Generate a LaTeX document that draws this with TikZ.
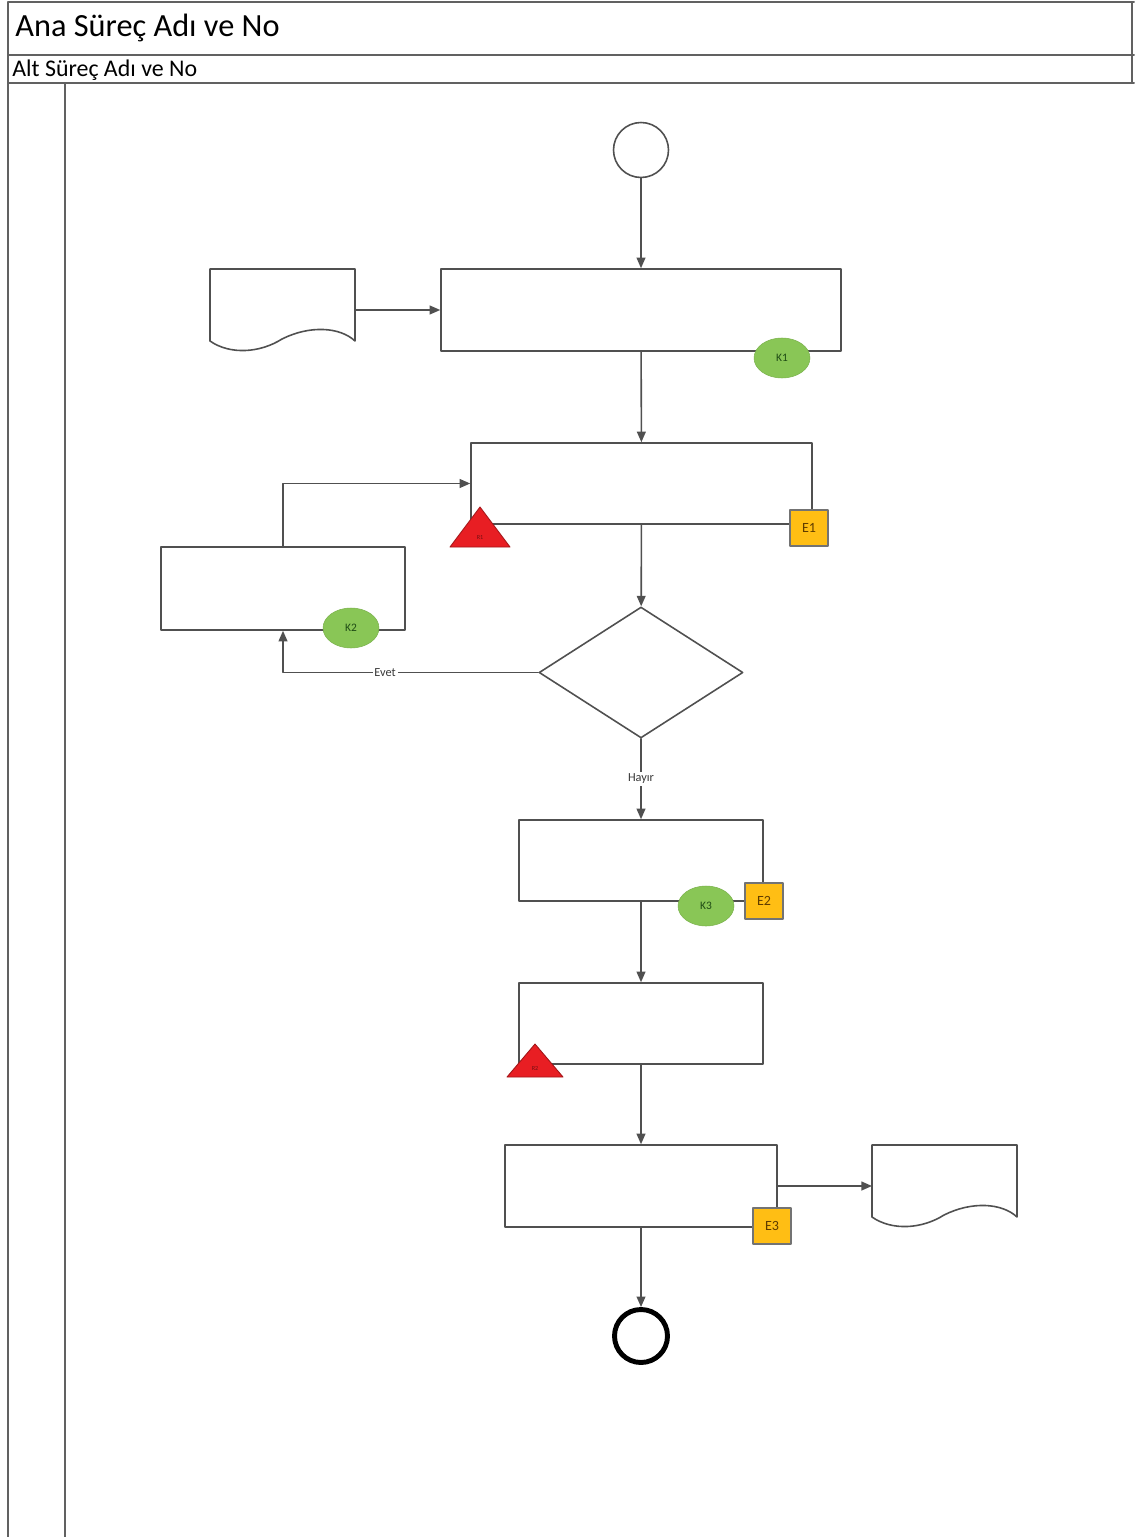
\documentclass[tikz,border=0pt]{standalone}
\usepackage{fontspec}
\setmainfont{Carlito}
\usetikzlibrary{shapes.geometric,arrows.meta}
\definecolor{cizgi}{RGB}{80,80,80}
\definecolor{kyesil}{RGB}{137,198,86}
\definecolor{kyazi}{RGB}{30,75,20}
\definecolor{eturuncu}{RGB}{255,190,20}
\definecolor{eyazi}{RGB}{95,60,0}
\definecolor{rkirmizi}{RGB}{232,30,35}
\tikzset{
	kutu/.style={draw=cizgi,line width=0.9pt,fill=white,inner sep=0pt},
	ok/.style={draw=cizgi,line width=0.9pt,-{Triangle[length=6pt,width=5pt]}},
	kball/.style={ellipse,fill=kyesil,draw=kyesil!90!black,line width=0.3pt,minimum width=1.12cm,minimum height=0.8cm,inner sep=0pt,text=kyazi,font=\fontsize{6.5}{7}\selectfont},
	ebox/.style={rectangle,fill=eturuncu,draw=cizgi!80,line width=0.9pt,minimum width=0.76cm,minimum height=0.72cm,inner sep=0pt,text=eyazi,font=\fontsize{8}{9}\selectfont},
	risk/.style={fill=rkirmizi,draw=rkirmizi!70!black,line width=0.5pt,line join=round},
	etiket/.style={fill=white,inner sep=1pt,text=cizgi!70!black,font=\fontsize{7}{8}\selectfont},
	cerceve/.style={draw=cizgi!90,line width=1.1pt}
}
\begin{document}
\begin{tikzpicture}[line join = round, line cap = round,x=0.02cm,y=-0.02cm]
	\useasboundingbox (0,0) rectangle (1134,1537);
	\path
	(355,310) coordinate(docAout)
	(872,1186) coordinate(docBin)
	(210,269) coordinate(docA)
	(872,1145) coordinate(docB)
	;
	% frame
	\draw[cerceve] (8,1537)--(8,2)--(1134,2) (1132,2)--(1132,83);
	\draw[cerceve] (8,55)--(1134,55) (8,83)--(1134,83) (65,83)--(65,1537);
	\node[anchor=base west,inner sep=0pt,font=\fontsize{18.4}{21}\selectfont] (anabaslik) at (15,37) {Ana Süreç Adı ve No};
	\node[anchor=base west,inner sep=0pt,font=\fontsize{13.6}{15}\selectfont] (altbaslik) at (12,77) {Alt Süreç Adı ve No};
	% documents
	\foreach \d in {docA,docB}
	\draw[kutu,shift={(\d)}] (0,0) -- (145,0) -- (145,72) .. controls (130,58) and (100,56) .. (72,70) .. controls (50,84) and (20,86) .. (0,72) -- cycle;
	% shapes
	\node[circle,draw=cizgi,line width=0.9pt,minimum size=1.1cm,inner sep=0pt] (start) at (641,150) {};
	\node[kutu,minimum width=8cm,minimum height=1.64cm] (b1) at (641,310) {};
	\node[kutu,minimum width=6.82cm,minimum height=1.62cm] (b2) at (641.5,483.5) {};
	\node[kutu,minimum width=4.88cm,minimum height=1.66cm] (b3) at (283,588.5) {};
	\node[kutu,diamond,minimum width=4.08cm,minimum height=2.62cm] (karar) at (641,672.5) {};
	\node[kutu,minimum width=4.88cm,minimum height=1.62cm] (b4) at (641,860.5) {};
	\node[kutu,minimum width=4.88cm,minimum height=1.62cm] (b5) at (641,1023.5) {};
	\node[kutu,minimum width=5.44cm,minimum height=1.64cm] (b6) at (641,1186) {};
	\node[circle,draw=black,line width=2.8pt,minimum size=1.06cm,inner sep=0pt] (stop) at (641,1336) {};
	% connectors
	\draw[ok] (start) -- (b1);
	\draw[ok] (docAout) -- (b1.west);
	\draw[ok] (b1) -- (b2);
	\draw[ok] (b2) -- (karar);
	\draw[ok] (karar.west) -| node[pos=0.3,etiket]{Evet} (b3.south);
	\draw[ok] (b3.north) |- (b2.west);
	\draw[ok] (karar) -- node[etiket]{Hayır} (b4);
	\draw[ok] (b4) -- (b5);
	\draw[ok] (b5) -- (b6);
	\draw[ok] (b6.east) -- (docBin);
	\draw[ok] (b6) -- (stop);
	% markers
	\foreach \n/\x/\y in {K1/782/358,K2/351/628,K3/706/906}
	\node[kball] (\n) at (\x,\y) {\n};
	\foreach \n/\x/\y in {E1/809/528,E2/764/901,E3/772/1226}
	\node[ebox] (\n) at (\x,\y) {\n};
	\foreach \n/\x/\y/\w/\h in {R1/480/547/60/40,R2/535/1077/56/33}{
	\draw[risk] ({\x-\w/2},\y) -- (\x,{\y-\h}) -- ({\x+\w/2},\y) -- cycle;
	\node[text=rkirmizi!50!black,inner sep=0pt,font=\fontsize{3.5}{4}\selectfont] (\n) at (\x,{\y-9}) {\n};
	}
\end{tikzpicture}
\end{document}
